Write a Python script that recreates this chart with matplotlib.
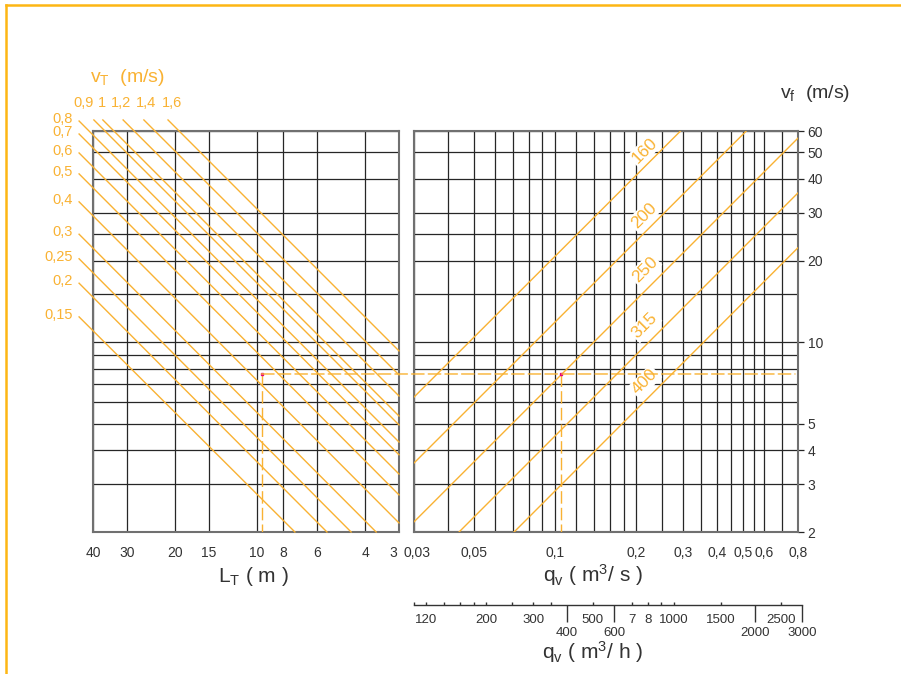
import matplotlib
matplotlib.use('Agg')
import matplotlib.pyplot as plt
import matplotlib.transforms as mtrans
from matplotlib.lines import Line2D
from matplotlib.patches import ConnectionPatch
from matplotlib.ticker import FixedLocator, FixedFormatter, NullLocator

plt.rcParams['font.family'] = ['Liberation Sans', 'DejaVu Sans']
plt.rcParams['mathtext.default'] = 'regular'

ORANGE = '#F9B233'
GRID = '#262626'
TXT = '#333333'

# ---- data ----
lt_grid = [40, 30, 20, 15, 10, 8, 6, 4, 3]
vf_grid = [60, 50, 40, 30, 25, 20, 15, 10, 9, 8, 7, 6, 5, 4, 3, 2]
qs_grid = [0.03, 0.04, 0.05, 0.06, 0.07, 0.08, 0.09, 0.1, 0.12, 0.14, 0.16, 0.18,
           0.2, 0.25, 0.3, 0.35, 0.4, 0.45, 0.5, 0.55, 0.6, 0.7, 0.8]

vf_ticks = [60, 50, 40, 30, 20, 10, 5, 4, 3, 2]
qs_ticks = [0.03, 0.05, 0.1, 0.2, 0.3, 0.4, 0.5, 0.6, 0.8]
qs_tick_labels = ['0,03', '0,05', '0,1', '0,2', '0,3', '0,4', '0,5', '0,6', '0,8']

qh_minor = [108, 120, 140, 160, 180, 200, 250, 300, 350, 500, 700, 800, 900, 1000, 1500, 2500]
qh_minor_labels = ['', '120', '', '', '', '200', '', '300', '', '500', '7', '8', '', '1000', '1500', '2500']
qh_major = [400, 600, 2000, 3000]
qh_major_labels = ['400', '600', '2000', '3000']

# v_T lines (left panel): start / end points (L_T in m, v_f in m/s)
vt_labels = ['0,15', '0,2', '0,25', '0,3', '0,4', '0,5', '0,6', '0,7', '0,8',
             '0,9', '1', '1,2', '1,4', '1,6']
vt_start_L = [45, 45, 45, 45, 45, 45, 45, 45, 45, 39.7, 36.8, 31.0, 26.0, 21.2]
vt_start_vf = [12.4, 16.5, 20.3, 25.0, 32.9, 41.7, 49.8, 58.5, 65.3,
               65.9, 65.9, 65.9, 65.9, 65.9]
vt_end_L = [7.24, 5.52, 4.5, 3.64, 3, 3, 3, 3, 3, 3, 3, 3, 3, 3]
vt_end_vf = [2, 2, 2, 2, 2.16, 2.74, 3.27, 3.85, 4.29, 4.96, 5.35, 6.34, 7.58, 9.29]

# duct diameter lines (right panel): q_v in m3/s, v_f in m/s
duct_labels = ['160', '200', '250', '315', '400']
duct_q0 = [0.03, 0.03, 0.03, 0.0441, 0.0706]
duct_v0 = [6.28, 3.59, 2.18, 2, 2]
duct_q1 = [0.293, 0.514, 0.8, 0.8, 0.8]
duct_v1 = [60, 60, 56.5, 35.5, 22.3]
duct_label_q = [0.215, 0.214, 0.216, 0.216, 0.216]
duct_label_v = [50.7, 29.2, 18.5, 11.5, 7.14]

# worked example
ex_L = 9.6
ex_vf = 7.64
ex_qs = 0.1056
ex_q_end = 0.78

# ---- figure ----
W, H = 901, 674
fig = plt.figure(figsize=(W / 100, H / 100), dpi=100)


def box(x0, y0, x1, y1):
    return [x0 / W, 1 - y1 / H, (x1 - x0) / W, (y1 - y0) / H]


def nudge(label, dx):
    label.set_transform(label.get_transform() +
                        mtrans.ScaledTranslation(dx / 100, 0, fig.dpi_scale_trans))


ax1 = fig.add_axes(box(93, 131, 399, 532))
ax2 = fig.add_axes(box(414, 131, 798, 532))

for ax in (ax1, ax2):
    ax.set_xscale('log')
    ax.set_yscale('log')
    ax.set_ylim(2, 60)
    for s in ax.spines.values():
        s.set_color('#707070')
        s.set_linewidth(1.5)
    ax.xaxis.set_minor_locator(NullLocator())
    ax.yaxis.set_minor_locator(NullLocator())
ax1.set_xlim(40, 3)
ax2.set_xlim(0.03, 0.8)

# grids
ax1.vlines(lt_grid, 2, 60, color=GRID, lw=0.9, zorder=1)
ax1.hlines(vf_grid, 40, 3, color=GRID, lw=0.9, zorder=1)
ax2.vlines(qs_grid, 2, 60, color=GRID, lw=0.9, zorder=1)
ax2.hlines(vf_grid, 0.03, 0.8, color=GRID, lw=0.9, zorder=1)
ax2.hlines(2, 0.03, 0.35, color='#111111', lw=2.2, zorder=2)

# ticks
ax1.xaxis.set_major_locator(FixedLocator(lt_grid))
ax1.xaxis.set_major_formatter(FixedFormatter([str(v) for v in lt_grid]))
ax1.yaxis.set_major_locator(NullLocator())
ax1.tick_params(axis='x', length=0, pad=10, labelsize=10, labelcolor=TXT)

ax2.xaxis.set_major_locator(FixedLocator(qs_ticks))
ax2.xaxis.set_major_formatter(FixedFormatter(qs_tick_labels))
ax2.tick_params(axis='x', length=0, pad=10, labelsize=10, labelcolor=TXT)
ax2.yaxis.tick_right()
ax2.yaxis.set_major_locator(FixedLocator(vf_ticks))
ax2.yaxis.set_major_formatter(FixedFormatter([str(v) for v in vf_ticks]))
ax2.tick_params(axis='y', length=4, width=0.9, color=GRID, pad=3, labelsize=10,
                labelcolor=TXT)

fig.canvas.draw()
nudge(ax1.get_xticklabels()[-1], -6)
nudge(ax2.get_xticklabels()[0], 3)

# v_T lines
for i, lab in enumerate(vt_labels):
    ax1.plot([vt_start_L[i], vt_end_L[i]], [vt_start_vf[i], vt_end_vf[i]],
             color=ORANGE, lw=1.0, clip_on=False, zorder=3)

top_dx = [-10, -1, -2, 2, 4]
for i, lab in enumerate(vt_labels):
    if vt_start_L[i] > 40:
        ax1.annotate(lab, xy=(vt_start_L[i], vt_start_vf[i]), xytext=(-6, 2),
                     textcoords='offset pixels', ha='right', va='center',
                     color=ORANGE, fontsize=10.5, annotation_clip=False)
    else:
        ax1.annotate(lab, xy=(vt_start_L[i], vt_start_vf[i]),
                     xytext=(top_dx[i - 9], 17), textcoords='offset pixels',
                     ha='center', va='center', color=ORANGE, fontsize=10.5,
                     annotation_clip=False)

# duct lines
for i, lab in enumerate(duct_labels):
    ax2.plot([duct_q0[i], duct_q1[i]], [duct_v0[i], duct_v1[i]],
             color=ORANGE, lw=1.0, zorder=3)
    ax2.text(duct_label_q[i], duct_label_v[i], lab, rotation=45, color=ORANGE,
             fontsize=12.5, ha='center', va='center', rotation_mode='anchor',
             zorder=2.5,
             bbox=dict(facecolor='white', edgecolor='none', pad=1.0))

# worked example
dash = (0, (9, 3))
ax1.plot([ex_L, ex_L], [ex_vf, 2], color=ORANGE, lw=1.0, ls=dash, zorder=4)
ax2.plot([ex_qs, ex_qs], [ex_vf, 2], color=ORANGE, lw=1.0, ls=dash, zorder=4)
con = ConnectionPatch(xyA=(ex_L, ex_vf), coordsA=ax1.transData,
                      xyB=(ex_q_end, ex_vf), coordsB=ax2.transData,
                      color=ORANGE, lw=1.0, ls=dash, zorder=4)
fig.add_artist(con)
ax1.plot([ex_L], [ex_vf], 's', color='#E5007D', ms=2, zorder=5)
ax2.plot([ex_qs], [ex_vf], 's', color='#E5007D', ms=2, zorder=5)

# m3/h scale
ax3 = fig.add_axes(box(414, 585, 802, 605))
ax3.set_xscale('log')
ax3.set_xlim(108, 3000)
ax3.patch.set_visible(False)
for k in ('top', 'left', 'right'):
    ax3.spines[k].set_visible(False)
ax3.spines['bottom'].set_color(TXT)
ax3.spines['bottom'].set_linewidth(1.0)
ax3.yaxis.set_major_locator(NullLocator())
ax3.xaxis.set_major_locator(FixedLocator(qh_major))
ax3.xaxis.set_major_formatter(FixedFormatter(qh_major_labels))
ax3.xaxis.set_minor_locator(FixedLocator(qh_minor))
ax3.xaxis.set_minor_formatter(FixedFormatter(qh_minor_labels))
ax3.tick_params(axis='x', which='major', direction='out', length=12.5, width=1.0,
                color=TXT, pad=3.2, labelsize=9.5, labelcolor=TXT)
ax3.tick_params(axis='x', which='minor', direction='in', length=2.4, width=1.0,
                color=TXT, pad=6.3, labelsize=9.5, labelcolor=TXT)

# titles
fig.text(253 / W, 1 - 576 / H, 'L$_T$ ( m )', ha='center', va='center',
         fontsize=15, color=TXT)
fig.text(593 / W, 1 - 575 / H, 'q$_v$ ( m$^3$/ s )', ha='center', va='center',
         fontsize=15, color=TXT)
fig.text(593 / W, 1 - 652 / H, 'q$_v$ ( m$^3$/ h )', ha='center', va='center',
         fontsize=15, color=TXT)
fig.text(815 / W, 1 - 93 / H, 'v$_f$  (m/s)', ha='center', va='center',
         fontsize=14, color=TXT)
fig.text(127 / W, 1 - 78 / H, 'v$_T$  (m/s)', ha='center', va='center',
         fontsize=14, color=ORANGE)

# page frame
fig.add_artist(Line2D([6 / W, 1.0], [1 - 4.5 / H, 1 - 4.5 / H],
                      transform=fig.transFigure, color='#FDB614', lw=1.8))
fig.add_artist(Line2D([6 / W, 6 / W], [1 - 4.5 / H, 0.0],
                      transform=fig.transFigure, color='#FDB614', lw=1.8))

plt.savefig('out.png', dpi=100)
